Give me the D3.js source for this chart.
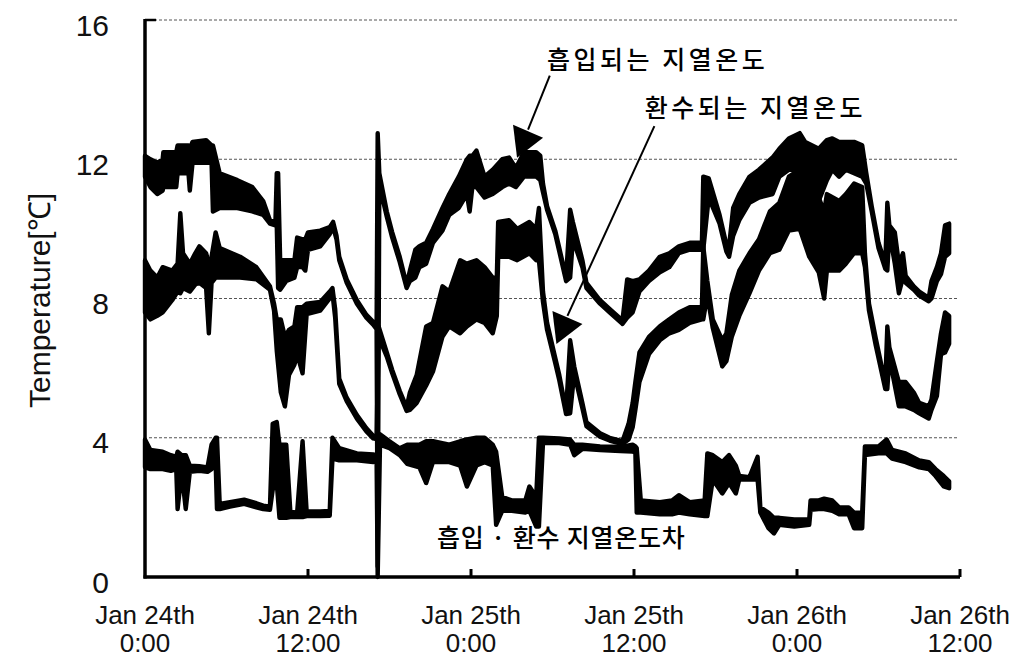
<!DOCTYPE html>
<html>
<head>
<meta charset="utf-8">
<script src="https://cdn.jsdelivr.net/npm/d3@7"></script>
<style>
  html, body { margin: 0; padding: 0; background: #fff; }
  svg { display: block; }
</style>
</head>
<body>
<svg id="chart" width="1030" height="658"></svg>
<script>
// Time axis: hours elapsed since Jan 24th 0:00
const xTickHours = [0, 12, 24, 36, 48, 60];
const xTickLines1 = ["Jan 24th", "Jan 24th", "Jan 25th", "Jan 25th", "Jan 26th", "Jan 26th"];
const xTickLines2 = ["0:00", "12:00", "0:00", "12:00", "0:00", "12:00"];
const yTicks = [0, 4, 8, 12, 16];

// Logged readings as [hour, low, high] of the scatter band at each instant
const inflowTemp = [
  [0.0,11.5,12.1],[0.4,11.2,12.0],[0.9,11.0,11.9],[1.3,11.1,12.0],[1.35,11.2,12.2],[2.3,11.2,12.2],
  [2.4,11.6,12.4],[3.2,11.6,12.4],[3.3,11.1,12.3],[3.5,11.9,12.5],[4.5,11.9,12.55],[4.9,11.9,12.4],
  [5.0,10.5,12.4],[5.5,10.6,11.6],[6.8,10.6,11.4],[7.9,10.5,11.2],[8.7,10.4,10.8],[9.2,10.15,10.25],
  [9.6,10.1,10.18],[9.7,10.1,11.6],[9.8,8.3,11.6],[9.95,8.25,9.1],[10.4,8.5,9.1],[11.0,8.6,9.1],
  [11.2,8.9,9.75],[11.6,8.9,9.7],[11.8,8.8,9.7],[12.0,9.4,9.9],[12.9,9.5,9.95],[13.6,9.85,10.05],
  [13.85,10.05,10.2],[14.1,9.7,9.8],[14.3,9.1,9.2],[14.85,8.45,8.55],[15.6,7.85,7.95],[16.3,7.45,7.53],
  [16.8,7.25,7.33],[17.05,7.12,7.2],[17.13,0.3,12.75],[17.25,11.2,11.6],[17.5,10.85,11.1],
  [17.8,10.35,10.5],[18.2,9.75,9.9],[18.75,9.05,9.2],[19.26,8.3,8.4],[19.5,8.5,8.8],[19.9,8.6,9.4],
  [20.2,8.9,9.5],[20.7,9.0,9.6],[21.2,9.6,10.0],[21.9,9.95,10.6],[22.4,10.4,11.0],[23.1,10.6,11.5],
  [23.7,11.0,12.0],[23.9,10.5,12.1],[24.1,11.2,12.1],[24.4,11.2,12.25],[25.0,10.9,11.5],[25.6,11.0,11.7],
  [26.3,11.2,12.0],[26.8,11.3,12.05],[27.3,11.2,11.75],[27.9,11.5,12.2],[28.8,11.5,12.2],[29.1,11.4,12.1],
  [29.3,11.05,11.3],[29.6,10.55,10.65],[30.2,9.85,9.95],[30.5,9.35,9.45],[31.0,8.5,8.6],[31.3,8.6,10.55],
  [31.5,9.7,10.2],[32.2,8.9,9.1],[32.5,8.3,8.45],[33.5,7.85,7.95],[34.2,7.6,7.7],[35.15,7.27,7.37],
  [35.5,7.45,8.55],[35.9,7.6,8.5],[36.4,8.2,8.55],[37.1,8.5,8.8],[37.9,8.75,9.2],[38.6,8.9,9.3],
  [39.3,9.3,9.5],[40.1,9.4,9.6],[41.0,9.4,9.6],[41.1,9.4,11.5],[41.5,10.9,11.45],[42.3,10.15,10.4],
  [42.8,9.35,9.55],[43.0,9.2,9.5],[43.3,9.8,10.6],[43.75,10.25,11.0],[44.5,10.75,11.5],[45.2,10.9,11.7],
  [46.2,11.0,12.05],[46.7,11.5,12.3],[47.4,11.7,12.6],[48.2,11.7,12.75],[48.6,11.2,12.5],[49.6,10.8,12.3],
  [50.2,11.4,12.55],[50.6,11.7,12.6],[51.1,11.5,12.5],[51.6,11.7,12.5],[52.2,11.6,12.5],[52.8,11.5,12.4],
  [53.1,11.3,11.6],[53.5,10.5,10.65],[54.0,9.45,9.6],[54.5,8.85,9.0],[54.65,8.8,10.75],[54.8,9.9,10.1],
  [55.2,9.0,9.9],[55.5,8.15,9.0],[55.8,8.6,9.3],[56.0,8.45,8.65],[56.6,8.25,8.35],[57.0,8.08,8.2],
  [57.7,7.92,8.02],[57.9,8.0,8.5],[58.3,8.5,8.9],[58.6,8.7,9.3],[58.9,9.2,10.1],[59.2,9.3,10.15]
];

const returnTemp = [
  [0.0,7.6,9.1],[0.4,7.4,8.8],[0.9,7.5,8.6],[1.3,7.6,8.9],[2.0,7.95,8.8],[2.4,8.2,9.0],[2.6,8.15,10.45],
  [2.8,8.3,9.3],[3.3,8.2,9.0],[3.7,8.4,9.3],[4.0,8.45,9.5],[4.5,8.3,9.3],[4.7,7.0,9.0],[4.9,8.45,9.2],
  [5.2,8.6,9.9],[5.5,8.6,9.45],[7.0,8.6,9.2],[8.2,8.55,8.9],[9.2,8.25,8.35],[9.5,7.65,7.85],[9.7,6.5,7.4],
  [10.0,5.3,7.4],[10.3,4.9,6.9],[10.6,5.8,7.1],[11.0,6.1,7.2],[11.2,6.4,7.75],[11.6,5.85,7.75],
  [11.9,7.55,7.85],[12.9,7.65,7.9],[13.6,8.0,8.2],[13.8,8.15,8.3],[14.0,7.45,7.7],[14.3,5.55,5.7],
  [14.85,5.05,5.15],[15.6,4.55,4.65],[16.3,4.18,4.27],[16.8,3.98,4.06],[17.05,3.96,4.04],[17.2,6.9,7.2],
  [17.8,6.33,6.45],[18.2,5.85,5.95],[18.75,5.25,5.35],[19.26,4.77,4.87],[19.5,4.8,5.3],[20.0,5.0,5.8],
  [20.7,5.5,7.2],[21.2,5.9,7.3],[21.9,6.9,8.35],[22.4,7.2,8.2],[23.2,7.0,9.1],[23.7,7.2,9.0],[24.4,7.4,9.1],
  [25.0,7.3,8.9],[25.6,7.0,8.6],[25.9,7.5,8.6],[26.0,9.2,10.2],[26.8,9.2,10.25],[27.4,9.1,10.0],
  [28.3,9.3,10.2],[28.8,9.1,10.0],[29.0,9.1,10.6],[29.3,7.9,8.2],[29.6,7.1,7.3],[30.2,6.15,6.3],
  [30.5,5.65,5.8],[31.0,4.68,4.78],[31.3,4.7,6.8],[31.6,5.85,6.05],[32.2,4.85,5.0],[32.5,4.33,4.45],
  [33.5,4.03,4.13],[34.2,3.92,4.0],[35.15,3.82,3.9],[35.6,3.95,4.4],[35.9,4.3,5.0],[36.1,4.8,5.6],
  [36.4,5.6,6.45],[37.1,6.4,6.9],[37.9,6.8,7.2],[38.6,7.0,7.4],[39.3,7.1,7.6],[40.1,7.3,7.75],
  [41.0,7.4,7.75],[41.1,7.4,9.5],[41.4,8.1,8.5],[41.8,7.15,7.4],[42.5,6.05,6.8],[42.8,6.2,7.0],
  [43.2,6.9,8.1],[43.75,7.5,8.8],[44.5,8.15,9.3],[45.2,8.8,9.7],[46.0,9.3,10.5],[46.7,9.4,10.75],
  [47.4,9.95,11.5],[48.2,10.0,11.7],[48.9,9.2,11.2],[49.6,8.75,10.9],[50.0,8.0,10.5],[50.2,8.8,11.0],
  [51.1,8.8,10.8],[51.6,9.0,11.0],[52.2,9.3,11.3],[52.8,9.3,11.2],[53.0,8.9,9.3],[53.3,7.65,7.85],
  [53.8,6.65,6.85],[54.5,5.4,5.55],[54.65,5.4,7.2],[54.8,6.3,6.6],[55.5,4.9,5.6],[56.0,4.9,5.6],
  [56.6,4.8,5.3],[57.0,4.7,5.0],[57.7,4.55,4.9],[57.9,4.8,5.1],[58.3,5.2,6.2],[58.6,6.4,7.0],
  [58.9,6.45,7.6],[59.2,6.7,7.5]
];

const tempDifference = [
  [0.0,3.15,3.95],[0.4,3.1,3.65],[1.3,3.1,3.6],[1.9,3.05,3.5],[2.3,3.1,3.45],[2.4,1.95,3.6],[2.7,3.0,3.5],
  [3.0,1.95,3.5],[3.3,3.02,3.2],[4.0,3.05,3.18],[4.6,3.02,3.15],[4.9,3.1,3.8],[5.2,3.3,4.0],[5.3,1.95,4.0],
  [5.5,1.95,2.1],[6.25,2.02,2.15],[7.3,2.1,2.22],[8.2,2.0,2.12],[8.7,1.95,2.05],[9.2,1.93,2.02],
  [9.4,2.5,4.4],[9.7,2.7,4.45],[9.9,1.7,3.8],[10.4,1.7,3.8],[10.7,1.72,1.88],[11.2,1.72,1.85],[11.6,1.72,3.9],
  [11.9,1.75,1.88],[12.9,1.75,1.88],[13.6,1.76,1.9],[13.8,3.4,4.0],[14.3,3.35,3.7],[15.6,3.35,3.55],
  [16.8,3.3,3.52],[17.05,3.35,3.5],[17.13,0.0,3.5],[17.3,3.8,4.1],[18.0,3.7,3.9],[18.75,3.5,3.7],
  [19.3,3.25,3.8],[20.2,3.15,3.8],[20.7,2.7,3.9],[21.2,3.3,3.9],[22.4,3.3,3.8],[23.2,3.2,3.9],[23.7,2.6,3.95],
  [24.4,3.2,4.0],[25.0,3.3,4.0],[25.6,3.2,3.8],[25.85,1.5,3.6],[26.3,1.9,2.3],[27.0,1.9,2.2],[28.0,1.85,2.2],
  [28.3,1.9,2.6],[28.8,1.45,2.3],[29.0,1.45,4.0],[29.3,3.85,4.0],[30.5,3.85,3.98],[31.3,3.8,3.95],
  [31.6,3.5,3.8],[32.2,3.68,3.8],[33.5,3.65,3.75],[35.0,3.62,3.74],[35.9,3.6,3.8],[36.1,3.6,3.75],
  [36.2,1.85,3.7],[36.5,1.85,2.2],[37.9,1.8,2.15],[38.8,1.8,2.2],[39.3,1.85,2.35],[40.1,1.8,2.15],
  [41.2,1.75,2.2],[41.4,1.75,3.55],[41.8,2.8,3.5],[42.5,2.4,3.3],[43.0,2.7,3.5],[43.5,2.4,3.2],
  [43.75,2.8,2.9],[44.5,2.8,2.87],[45.1,2.8,3.45],[45.3,1.85,2.0],[45.9,1.4,1.85],[46.3,1.25,1.7],
  [46.7,1.5,1.7],[47.8,1.45,1.65],[48.9,1.5,1.65],[49.0,1.93,2.2],[49.6,1.95,2.2],[50.0,1.95,2.25],
  [50.6,1.9,2.2],[51.1,1.8,2.0],[51.8,1.8,2.0],[52.2,1.4,1.85],[52.8,1.4,1.85],[53.0,3.5,3.75],
  [54.0,3.55,3.75],[54.6,3.55,3.95],[55.0,3.4,3.65],[56.0,3.3,3.55],[57.0,3.15,3.35],[57.7,3.1,3.3],
  [58.2,2.9,3.1],[58.8,2.6,2.9],[59.2,2.55,2.75]
];

// Annotation labels: [text, hour, °C] for the text anchor
const seriesLabels = [
  ["흡입되는 지열온도", 29.6, 14.6],
  ["환수되는 지열온도", 36.8, 13.2]
];
const bottomLabel = ["흡입 · 환수 지열온도차", 21.5, 0.85];
// Pointer lines: [fromHour, fromTemp, toHour, toTemp]
const pointers = [
  [29.8, 14.4, 28.2, 12.85],
  [37.5, 12.95, 31.1, 7.5]
];

const svg = d3.select("#chart");
const x = d3.scaleLinear().domain([0, 60]).range([145, 960]);
const y = d3.scaleLinear().domain([0, 16]).range([577, 20]);

const latin = "'Liberation Sans', Arial, Helvetica, sans-serif";
const hangul = "'Noto Sans CJK KR', 'Noto Sans', sans-serif";

// Dotted horizontal gridlines
svg.append("g")
  .selectAll("line")
  .data(yTicks.filter(d => d > 0))
  .join("line")
  .attr("x1", x(0) + 4).attr("x2", x(60) - 2)
  .attr("y1", d => y(d)).attr("y2", d => y(d))
  .attr("stroke", "#555").attr("stroke-width", 1)
  .attr("stroke-dasharray", "3,2");

// Left axis
const yAxis = d3.axisLeft(y).tickValues(yTicks).tickSize(0).tickPadding(36);
const gy = svg.append("g").attr("transform", `translate(${x(0)},0)`).call(yAxis);
gy.select(".domain").remove();
gy.selectAll("text")
  .attr("font-family", latin).attr("font-size", 30).attr("fill", "#111")
  .attr("dy", "0.5em");

// Bottom axis labels (two lines)
const gx = svg.append("g");
gx.selectAll("text.l1").data(xTickHours).join("text")
  .attr("class", "l1")
  .attr("x", d => x(d)).attr("y", 624)
  .attr("text-anchor", "middle")
  .attr("font-family", latin).attr("font-size", 26).attr("fill", "#111")
  .text((d, i) => xTickLines1[i]);
gx.selectAll("text.l2").data(xTickHours).join("text")
  .attr("class", "l2")
  .attr("x", d => x(d)).attr("y", 652)
  .attr("text-anchor", "middle")
  .attr("font-family", latin).attr("font-size", 26).attr("fill", "#111")
  .text((d, i) => xTickLines2[i]);

// Data bands
const band = d3.area()
  .x(d => x(d[0]))
  .y0(d => y(d[1]))
  .y1(d => y(d[2]));

[inflowTemp, returnTemp, tempDifference].forEach(series => {
  svg.append("path")
    .datum(series)
    .attr("d", band)
    .attr("fill", "#000")
    .attr("stroke", "#000")
    .attr("stroke-width", 4.4)
    .attr("stroke-linejoin", "round");
});

// Axis frame
svg.append("line")
  .attr("x1", x(0)).attr("x2", x(0))
  .attr("y1", y(16) - 1).attr("y2", y(0) + 1.5)
  .attr("stroke", "#000").attr("stroke-width", 3.5);
svg.append("line")
  .attr("x1", x(0)).attr("x2", x(0) + 11)
  .attr("y1", y(16)).attr("y2", y(16))
  .attr("stroke", "#000").attr("stroke-width", 2.5);
svg.append("line")
  .attr("x1", x(0) - 1.5).attr("x2", x(60))
  .attr("y1", y(0)).attr("y2", y(0))
  .attr("stroke", "#000").attr("stroke-width", 3.5);
svg.append("g")
  .selectAll("line")
  .data(xTickHours.slice(1))
  .join("line")
  .attr("x1", d => x(d)).attr("x2", d => x(d))
  .attr("y1", y(0)).attr("y2", y(0) - 8)
  .attr("stroke", "#000").attr("stroke-width", 3);

// Y axis title
svg.append("text")
  .attr("transform", `translate(50,${(y(16) + y(0)) / 2 + 2}) rotate(-90)`)
  .attr("text-anchor", "middle")
  .attr("font-family", latin).attr("font-size", 30).attr("fill", "#111")
  .text("Temperature[℃]");

// Pointer lines with triangular heads
pointers.forEach(p => {
  const x1 = x(p[0]), y1 = y(p[1]), x2 = x(p[2]), y2 = y(p[3]);
  svg.append("line")
    .attr("x1", x1).attr("y1", y1).attr("x2", x2).attr("y2", y2)
    .attr("stroke", "#000").attr("stroke-width", 2);
  const head = [[x2 - 15, y2 - 5], [x2 + 15, y2 + 8], [x2 - 11, y2 + 28]];
  svg.append("polygon")
    .attr("points", head.map(q => q.join(",")).join(" "))
    .attr("fill", "#000");
});

// Series labels
seriesLabels.forEach(l => {
  svg.append("text")
    .attr("x", x(l[1])).attr("y", y(l[2]))
    .attr("font-family", hangul).attr("font-size", 25).attr("font-weight", 500)
    .attr("fill", "#000").attr("letter-spacing", 3.5)
    .text(l[0]);
});
svg.append("text")
  .attr("x", x(bottomLabel[1])).attr("y", y(bottomLabel[2]))
  .attr("font-family", hangul).attr("font-size", 25).attr("font-weight", 500)
  .attr("fill", "#000").attr("letter-spacing", 0.8)
  .text(bottomLabel[0]);
</script>
</body>
</html>
